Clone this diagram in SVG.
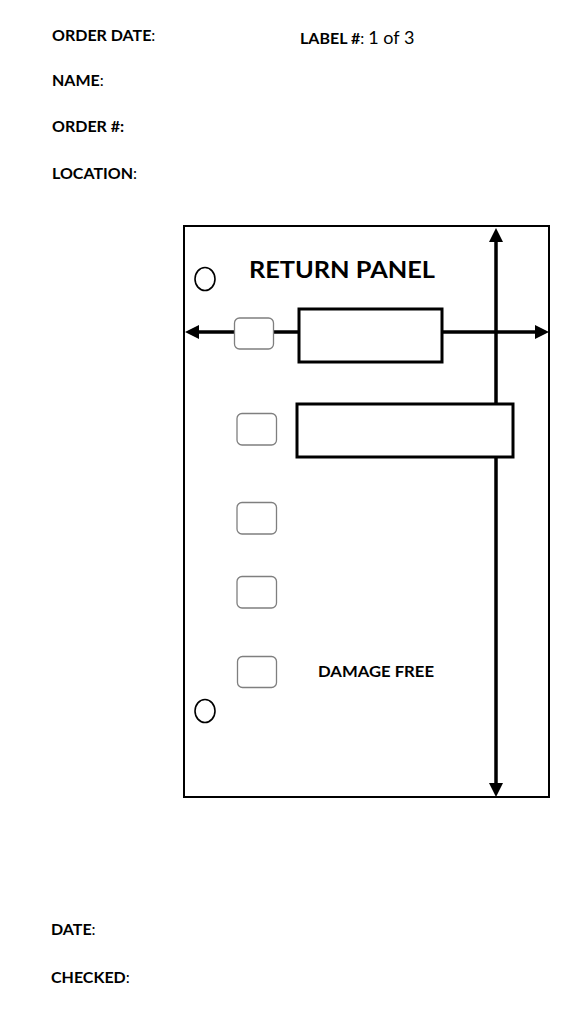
<svg xmlns="http://www.w3.org/2000/svg" width="576" height="1024" viewBox="0 0 576 1024">
<style>
.lbl{font-family:Lato,"Open Sans","Liberation Sans",sans-serif;font-size:16px;fill:#000}
.b{font-weight:bold}
.big{font-size:22px}
.num{font-size:18px}
.panel{fill:#fff;stroke:#000;stroke-width:2}
.box{fill:#fff;stroke:#000;stroke-width:3}
.chk{fill:#fff;stroke:#7f7f7f;stroke-width:1.3}
.hole{fill:#fff;stroke:#000;stroke-width:1.6}
.arr{stroke:#000;stroke-width:3.5;fill:none}
</style>
<defs>
<marker id="ah" markerUnits="userSpaceOnUse" markerWidth="14" markerHeight="14" viewBox="0 0 14 14" refX="1" refY="7" orient="auto-start-reverse">
<path d="M0,0 L14,7 L0,14 Z" fill="#000"/>
</marker>
</defs>
<rect width="576" height="1024" fill="#fff"/>
<g id="header">
<text class="lbl" x="52" y="41"><tspan class="b">ORDER DATE</tspan>:</text>
<text class="lbl" x="300" y="44"><tspan class="b">LABEL #</tspan>: <tspan class="num">1 of 3</tspan></text>
<text class="lbl" x="52" y="86"><tspan class="b">NAME</tspan>:</text>
<text class="lbl" x="52" y="132"><tspan class="b">ORDER #:</tspan></text>
<text class="lbl" x="52" y="179"><tspan class="b">LOCATION</tspan>:</text>
</g>
<g id="panel">
<rect class="panel" x="184" y="226" width="365" height="571"/>
<text class="lbl b big" x="249" y="278" textLength="186" lengthAdjust="spacingAndGlyphs">RETURN PANEL</text>
<ellipse class="hole" cx="205" cy="279" rx="10" ry="11.5"/>
<ellipse class="hole" cx="205" cy="711" rx="10" ry="11.5"/>
</g>
<g id="connectors">
<line class="arr" x1="198" y1="332" x2="536" y2="332" marker-start="url(#ah)" marker-end="url(#ah)"/>
<line class="arr" x1="496" y1="241" x2="496" y2="784" marker-start="url(#ah)" marker-end="url(#ah)"/>
</g>
<g id="box1"><rect class="box" x="299" y="309" width="143" height="53"/></g>
<g id="box2"><rect class="box" x="297" y="404" width="216" height="53"/></g>
<g id="check0"><rect class="chk" x="234.5" y="318" width="39" height="31" rx="5"/></g>
<g id="check1"><rect class="chk" x="237" y="413.5" width="39.5" height="31.5" rx="5"/></g>
<g id="check2"><rect class="chk" x="237" y="502.5" width="39.5" height="31.5" rx="5"/></g>
<g id="check3"><rect class="chk" x="237" y="576.5" width="39.5" height="31.5" rx="5"/></g>
<g id="check4"><rect class="chk" x="237.5" y="656.5" width="39" height="31" rx="5"/></g>
<g id="damage"><text class="lbl b" x="318" y="677" textLength="116" lengthAdjust="spacingAndGlyphs">DAMAGE FREE</text></g>
<g id="footer">
<text class="lbl" x="51" y="935"><tspan class="b">DATE</tspan>:</text>
<text class="lbl" x="51" y="983"><tspan class="b">CHECKED</tspan>:</text>
</g>
</svg>
